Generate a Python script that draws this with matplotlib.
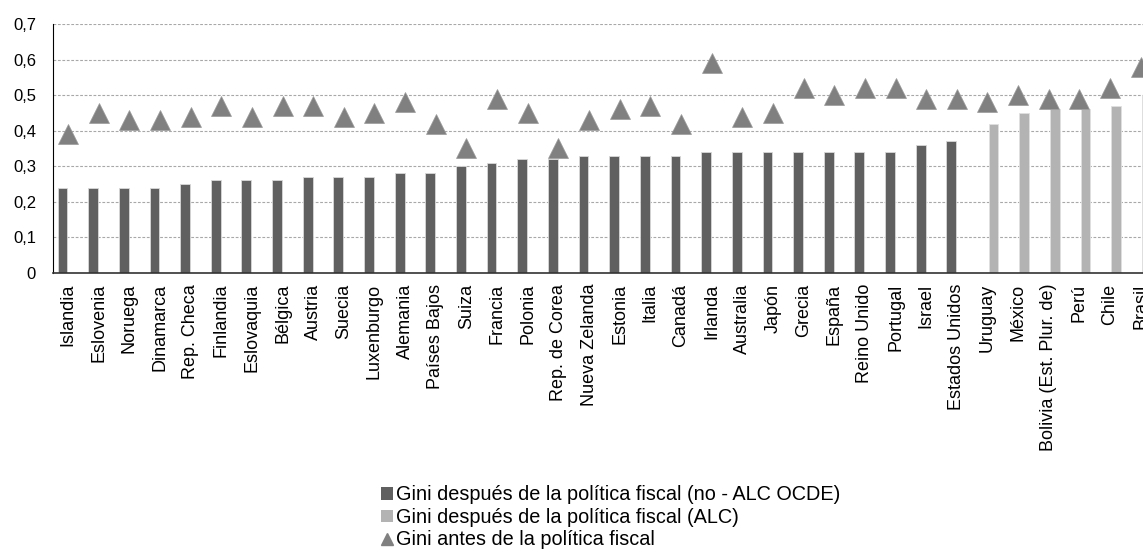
# Gini antes y después de la política fiscal, OCDE y ALC
import numpy as np
import matplotlib.pyplot as plt
from matplotlib.patches import Patch
from matplotlib.lines import Line2D
from matplotlib.ticker import FuncFormatter

plt.rcParams['font.family'] = ['Liberation Sans', 'DejaVu Sans']

paises = ["Islandia", "Eslovenia", "Noruega", "Dinamarca", "Rep. Checa", "Finlandia",
          "Eslovaquia", "Bélgica", "Austria", "Suecia", "Luxenburgo", "Alemania",
          "Países Bajos", "Suiza", "Francia", "Polonia", "Rep. de Corea", "Nueva Zelanda",
          "Estonia", "Italia", "Canadá", "Irlanda", "Australia", "Japón", "Grecia",
          "España", "Reino Unido", "Portugal", "Israel", "Estados Unidos",
          "Uruguay", "México", "Bolivia (Est. Plur. de)", "Perú", "Chile", "Brasil"]

# Gini después de la política fiscal, países OCDE no ALC
gini_despues_ocde = [0.24, 0.24, 0.24, 0.24, 0.25, 0.26, 0.26, 0.26, 0.27, 0.27,
                     0.27, 0.28, 0.28, 0.30, 0.31, 0.32, 0.32, 0.33, 0.33, 0.33,
                     0.33, 0.34, 0.34, 0.34, 0.34, 0.34, 0.34, 0.34, 0.36, 0.37]
# Gini después de la política fiscal, ALC
gini_despues_alc = [0.42, 0.45, 0.46, 0.46, 0.47, 0.50]
# Gini antes de la política fiscal
gini_antes = [0.39, 0.45, 0.43, 0.43, 0.44, 0.47, 0.44, 0.47, 0.47, 0.44,
              0.45, 0.48, 0.42, 0.35, 0.49, 0.45, 0.35, 0.43, 0.46, 0.47,
              0.42, 0.59, 0.44, 0.45, 0.52, 0.50, 0.52, 0.52, 0.49, 0.49,
              0.48, 0.50, 0.49, 0.49, 0.52, 0.58]

oscuro = '#606060'
claro = '#b3b3b3'
triangulo = '#808080'

fig = plt.figure(figsize=(11.43, 5.51), dpi=100)
ax = fig.add_axes([0.0461, 0.5051, 0.9653, 0.4508])

x = np.arange(len(paises))
n_ocde = len(gini_despues_ocde)
ancho = 0.32
ax.bar(x[:n_ocde] - 0.18, gini_despues_ocde, width=ancho, color=oscuro,
       edgecolor='#d8d8d8', linewidth=0.6, zorder=2)
ax.bar(x[n_ocde:] + 0.2, gini_despues_alc, width=ancho, color=claro,
       edgecolor='#e0e0e0', linewidth=0.6, zorder=2)
ax.plot(x, gini_antes, linestyle='none', marker='^', markersize=14.5,
        color=triangulo, markeredgecolor='#9a9a9a', markeredgewidth=0.5, zorder=3)

ax.set_xlim(-0.5, len(paises) - 0.5)
ax.set_ylim(0, 0.7)
ax.set_yticks(np.arange(0, 0.71, 0.1))
ax.yaxis.set_major_formatter(FuncFormatter(lambda v, p: '0' if v == 0 else f"{v:.1f}".replace('.', ',')))
ax.set_xticks(x)
ax.set_xticklabels(paises, rotation=90, fontsize=13)
ax.tick_params(axis='y', length=0, pad=12, labelsize=12)
ax.tick_params(axis='x', length=0, pad=8)

ax.grid(axis='y', color='#a8a8a8', linestyle=(0, (2.5, 1.5)), linewidth=0.8, zorder=0)
ax.set_axisbelow(True)
for lado in ['top', 'right']:
    ax.spines[lado].set_visible(False)
ax.spines['left'].set_color('black')
ax.spines['bottom'].set_color('#333333')
ax.spines['bottom'].set_linewidth(1.2)

handles = [Patch(facecolor=oscuro, edgecolor='none'),
           Patch(facecolor=claro, edgecolor='none'),
           Line2D([], [], linestyle='none', marker='^', markersize=9, color=triangulo)]
labels = ["Gini después de la política fiscal (no - ALC OCDE)",
          "Gini después de la política fiscal (ALC)",
          "Gini antes de la política fiscal"]
fig.legend(handles, labels, loc='upper left', bbox_to_anchor=(0.333, 0.119),
           frameon=False, fontsize=14.3, handlelength=0.6, handleheight=0.6,
           handletextpad=0.15, labelspacing=0.17, borderpad=0, borderaxespad=0)

fig.savefig('out.png', dpi=100)
